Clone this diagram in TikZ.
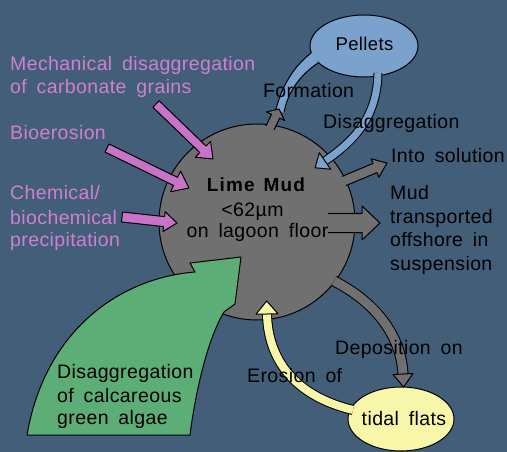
\documentclass[tikz,border=0pt]{standalone}
\usepackage{fontspec}
\setmainfont{Liberation Sans}[LetterSpace=2,WordSpace=1.7]
\usetikzlibrary{calc,shapes.geometric}
\definecolor{bgcol}{RGB}{67,94,121}
\definecolor{mudgray}{RGB}{112,112,112}
\definecolor{pinktext}{RGB}{207,128,207}
\definecolor{pinkfill}{RGB}{200,115,200}
\definecolor{algaegreen}{RGB}{92,173,118}
\definecolor{flatyellow}{RGB}{248,246,168}
\definecolor{pelletblue}{RGB}{122,162,204}
\tikzset{
 outl/.style={draw=black, line width=1pt, line join=round},
 lbl/.style={anchor=base west, inner sep=0pt, font=\fontsize{19.5}{23}\selectfont},
 clbl/.style={lbl, anchor=base},
 pinklbl/.style={lbl, text=pinktext},
 band/.style={draw=black, line width=1pt, double=#1, double distance=8pt},
}
\newcommand\fatarrow[6]{%
  \coordinate (fah) at ($(#2)!#5!(#1)$);
  \draw[outl, fill=#6] ($(#1)!#3!90:(#2)$) -- ($(fah)!#3!90:(#2)$) -- ($(fah)!#4!90:(#2)$) -- (#2) -- ($(fah)!#4!-90:(#2)$) -- ($(fah)!#3!-90:(#2)$) -- ($(#1)!#3!-90:(#2)$) -- cycle;}
\newcommand\fatarrowopen[6]{%
  \coordinate (fah) at ($(#2)!#5!(#1)$);
  \fill[#6] ($(#1)!#3!90:(#2)$) -- ($(fah)!#3!90:(#2)$) -- ($(fah)!#4!90:(#2)$) -- (#2) -- ($(fah)!#4!-90:(#2)$) -- ($(fah)!#3!-90:(#2)$) -- ($(#1)!#3!-90:(#2)$) -- cycle;
  \draw[outl] ($(#1)!#3!90:(#2)$) -- ($(fah)!#3!90:(#2)$) -- ($(fah)!#4!90:(#2)$) -- (#2) -- ($(fah)!#4!-90:(#2)$) -- ($(fah)!#3!-90:(#2)$) -- ($(#1)!#3!-90:(#2)$);}
\newcommand\bandhead[5]{%
  \draw[outl, fill=#5] ($(#1)!#4!90:(#2)$) -- ($(#1)!-#3!(#2)$) -- ($(#1)!#4!-90:(#2)$) -- cycle;}
\begin{document}
\begin{tikzpicture}[x=1pt,y=-1pt]
\useasboundingbox (0,0) rectangle (507,452);
\fill[bgcol] (0,0) rectangle (507,452);
% main shapes
\node[circle, outl, fill=mudgray, minimum size=196pt, inner sep=0pt] (mud) at (257,222) {};
\node[ellipse, outl, fill=pelletblue, minimum width=108pt, minimum height=62pt, inner sep=0pt] (pellets) at (364,46) {};
\node[ellipse, outl, fill=flatyellow, minimum width=106pt, minimum height=64pt, inner sep=0pt] (tidal) at (401,419) {};
% green algae arrow
\draw[outl, fill=algaegreen] (27,435) -- (190,435) .. controls (195,395) and (207,340) .. (224,312) -- (235,304) -- (241,257) -- (190,263) -- (195,272) .. controls (120,278) and (45,330) .. (27,435) -- cycle;
% pink arrows
\coordinate (p1t) at (156,104); \coordinate (p1h) at (213,159);
\coordinate (p2t) at (107,148); \coordinate (p2h) at (189,188);
\coordinate (p3t) at (122,217); \coordinate (p3h) at (177,223);
\fatarrow{p1t}{p1h}{4.5pt}{11pt}{14pt}{pinkfill}
\fatarrow{p2t}{p2h}{4.5pt}{11.5pt}{15pt}{pinkfill}
\fatarrow{p3t}{p3h}{5pt}{10pt}{13pt}{pinkfill}
% gray arrows out of the mud
\coordinate (solt) at (344,181); \coordinate (solh) at (387,163);
\fatarrowopen{solt}{solh}{5pt}{10pt}{13pt}{mudgray}
\coordinate (offt) at (328,223); \coordinate (offh) at (380,223);
\fatarrowopen{offt}{offh}{9.5pt}{17pt}{18pt}{mudgray}
% deposition
\coordinate (dep0) at (334,281); \coordinate (depc1) at (375,302);
\coordinate (depc2) at (401,335); \coordinate (dep1) at (403,374);
\draw[band=mudgray, double distance=9pt] (dep0) .. controls (depc1) and (depc2) .. (dep1);
\bandhead{dep1}{depc2}{13pt}{10pt}{mudgray}
% erosion
\coordinate (yel0) at (353,410); \coordinate (yelc1) at (295,396);
\coordinate (yelc2) at (268,360); \coordinate (yel1) at (267,314);
\draw[band=flatyellow] (yel0) .. controls (yelc1) and (yelc2) .. (yel1);
\bandhead{yel1}{yelc2}{13pt}{11pt}{flatyellow}
% formation band
\fill[pelletblue] (275,113) .. controls (281,88) and (292,68) .. (311,53) -- (316,54) -- (318,63) .. controls (300,75) and (288,92) .. (284,112) -- cycle;
\draw[outl] (275,113) .. controls (281,88) and (292,68) .. (311,53);
\draw[outl] (318,63) .. controls (300,75) and (288,92) .. (284,112);
\coordinate (fort) at (270,128); \coordinate (forh) at (279,109);
\fatarrowopen{fort}{forh}{4.5pt}{10pt}{8pt}{mudgray}
% disaggregation band
\coordinate (dis0) at (378,73); \coordinate (disc1) at (377,115);
\coordinate (disc2) at (357,139); \coordinate (dis1) at (325,161);
\draw[band=pelletblue, double distance=7pt] (dis0) .. controls (disc1) and (disc2) .. (dis1);
\bandhead{dis1}{disc2}{12pt}{10pt}{pelletblue}
% texts
\node[pinklbl] (t1) at (10,71) {Mechanical disaggregation};
\node[pinklbl] (t2) at (10,94) {of carbonate grains};
\node[pinklbl] (t3) at (10,140) {Bioerosion};
\node[pinklbl] (t4) at (10,200) {Chemical/};
\node[pinklbl] (t5) at (10,224) {biochemical};
\node[pinklbl] (t6) at (10,246) {precipitation};
\node[clbl, font=\fontsize{19}{22}\selectfont\bfseries\addfontfeature{LetterSpace=6}] (lime) at (256,191) {Lime\hspace{9pt}Mud};
\node[clbl] (size) at (252.5,216) {<62µm};
\node[clbl] (floor) at (257.5,237) {on lagoon floor};
\node[clbl, font=\fontsize{18.5}{22}\selectfont] (pl) at (364.5,51) {Pellets};
\node[clbl] (tl) at (404,425) {tidal flats};
\node[lbl] (formation) at (263,98) {Formation};
\node[lbl] (disagg) at (323,129) {Disaggregation};
\node[lbl] (into) at (391,163) {Into solution};
\node[lbl] (m1) at (390,200) {Mud};
\node[lbl] (m2) at (390,223) {transported};
\node[lbl] (m3) at (390,247) {offshore in};
\node[lbl] (m4) at (390,270) {suspension};
\node[lbl] (depo) at (335,354) {Deposition on};
\node[lbl] (eros) at (247,382) {Erosion of};
\node[lbl] (g1) at (57,378) {Disaggregation};
\node[lbl] (g2) at (57,402) {of calcareous};
\node[lbl] (g3) at (57,424) {green algae};
\end{tikzpicture}
\end{document}
